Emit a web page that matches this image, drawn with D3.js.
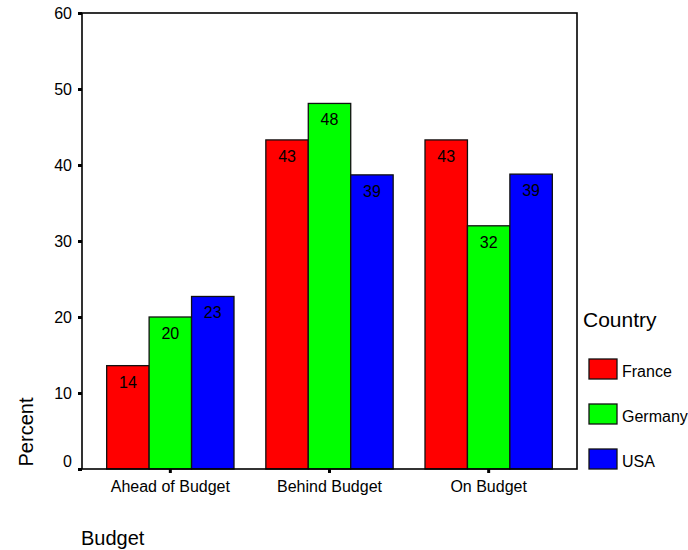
<!DOCTYPE html>
<html>
<head>
<meta charset="utf-8">
<script src="https://cdn.jsdelivr.net/npm/d3@7"></script>
<style>
  body { margin: 0; background: #fff; }
  svg { display: block; font-family: Arial, "Liberation Sans", sans-serif; }
</style>
</head>
<body>
<svg id="chart" width="688" height="550"></svg>
<script>
// Budget status by country (percent within country)
const categories = ["Ahead of Budget", "Behind Budget", "On Budget"];
const countries = ["France", "Germany", "USA"];
const france = [13.6, 43.3, 43.3];
const germany = [20.0, 48.1, 32.0];
const usa = [22.7, 38.7, 38.8];
const yTicks = [0, 10, 20, 30, 40, 50, 60];
const colors = ["#ff0000", "#00ff00", "#0000ff"];

const seriesByCountry = [france, germany, usa];
const rows = categories.map((c, i) => ({
  category: c,
  values: countries.map((k, j) => ({ country: k, value: seriesByCountry[j][i] }))
}));

const svg = d3.select("#chart");
const plot = { left: 82, right: 577, top: 13, bottom: 469 };

const y = d3.scaleLinear().domain([0, 60]).range([plot.bottom, plot.top]);
const x0 = d3.scaleBand().domain(categories)
  .range([plot.left, plot.right]).paddingInner(0.2).paddingOuter(0.155);
const x1 = d3.scaleBand().domain(countries).range([0, x0.bandwidth()]);
const color = d3.scaleOrdinal().domain(countries).range(colors);

// bars
const groups = svg.append("g").selectAll("g").data(rows).join("g")
  .attr("transform", d => `translate(${x0(d.category)},0)`);

groups.selectAll("rect").data(d => d.values).join("rect")
  .attr("x", d => x1(d.country))
  .attr("y", d => y(d.value))
  .attr("width", x1.bandwidth())
  .attr("height", d => y(0) - y(d.value))
  .attr("fill", d => color(d.country))
  .attr("stroke", "#111")
  .attr("stroke-width", 1.3);

// value labels just inside the top of each bar
groups.selectAll("text").data(d => d.values).join("text")
  .attr("x", d => x1(d.country) + x1.bandwidth() / 2)
  .attr("y", d => y(d.value) + 22)
  .attr("text-anchor", "middle")
  .attr("font-size", 16)
  .attr("fill", "#000")
  .text(d => d3.format(".0f")(d.value));

// frame around the plot
svg.append("rect")
  .attr("x", plot.left).attr("y", plot.top)
  .attr("width", plot.right - plot.left).attr("height", plot.bottom - plot.top)
  .attr("fill", "none").attr("stroke", "#000").attr("stroke-width", 1.6);

// y axis
const yAxis = svg.append("g")
  .attr("transform", `translate(${plot.left},0)`)
  .call(d3.axisLeft(y).tickValues(yTicks).tickSize(4).tickPadding(6).tickFormat(d3.format("d")));
yAxis.select(".domain").remove();
yAxis.selectAll(".tick line").attr("stroke", "#000").attr("stroke-width", 3);
yAxis.selectAll(".tick text")
  .attr("font-size", 16).attr("font-family", null).attr("fill", "#000")
  .attr("dy", "0.36em")
  .filter(d => d === 0).attr("y", -8);

// x axis
const xAxis = svg.append("g")
  .attr("transform", `translate(0,${plot.bottom})`)
  .call(d3.axisBottom(x0).tickSize(4).tickPadding(7.6));
xAxis.select(".domain").remove();
xAxis.selectAll(".tick line").attr("stroke", "#000").attr("stroke-width", 3);
xAxis.selectAll(".tick text")
  .attr("font-size", 16).attr("font-family", null).attr("fill", "#000");

// axis titles
svg.append("text")
  .attr("x", 81).attr("y", 545)
  .attr("font-size", 20).attr("fill", "#000")
  .text("Budget");

svg.append("text")
  .attr("transform", "translate(33,432) rotate(-90)")
  .attr("text-anchor", "middle")
  .attr("font-size", 20).attr("fill", "#000")
  .text("Percent");

// legend
const legend = svg.append("g").attr("transform", "translate(583,0)");
legend.append("text")
  .attr("x", 0).attr("y", 327)
  .attr("font-size", 21).attr("fill", "#000")
  .text("Country");

const items = legend.selectAll("g.item").data(countries).join("g")
  .attr("class", "item")
  .attr("transform", (d, i) => `translate(6,${359 + i * 45})`);
items.append("rect")
  .attr("width", 28).attr("height", 20)
  .attr("fill", d => color(d))
  .attr("stroke", "#111").attr("stroke-width", 1.3);
items.append("text")
  .attr("x", 33).attr("y", 18)
  .attr("font-size", 16).attr("fill", "#000")
  .text(d => d);
</script>
</body>
</html>
